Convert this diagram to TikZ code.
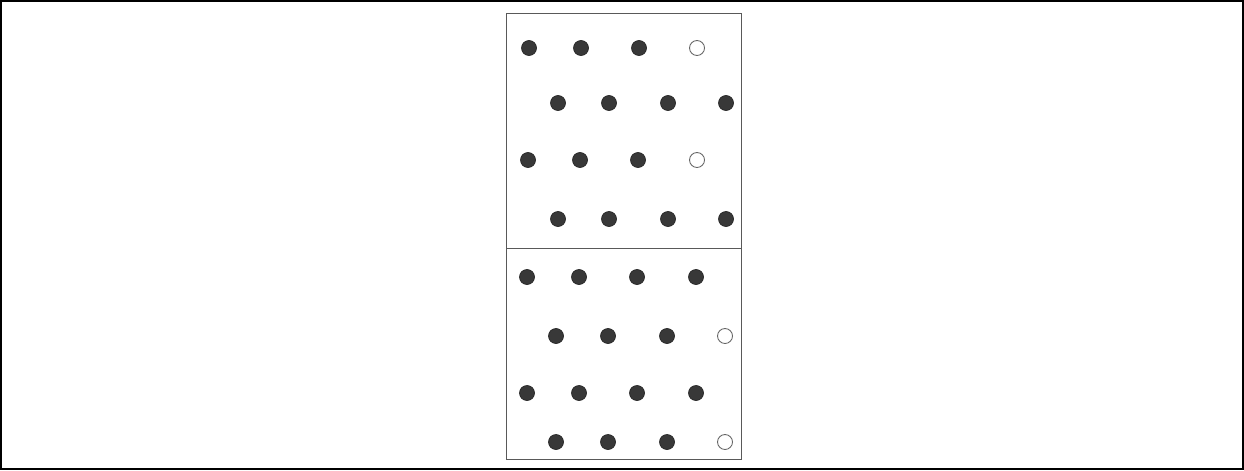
\documentclass[tikz,border=0pt]{standalone}
\tikzset{
  fulldot/.style={circle, fill=black!78, draw=black!85, inner sep=0pt, minimum size=0.3cm},
  opendot/.style={circle, draw=black!60, fill=white, inner sep=0pt, minimum size=0.3cm, line width=0.5pt},
  panel/.style={draw=black!65, line width=0.5pt}
}
\begin{document}
\begin{tikzpicture}[x=0.02cm,y=-0.02cm]
\useasboundingbox (0,0) rectangle (1244,470);
\draw[line width=1pt] (1,1) rectangle (1243,469);
% the two panels
\draw[panel] (506,13) rectangle (741,248);
\draw[panel] (506,248) rectangle (741,459);
% upper panel
\foreach \i/\x in {1/529,2/581,3/639} \node[fulldot] (ua\i) at (\x,48) {};
\node[opendot] (ua4) at (697,48) {};
\foreach \i/\x in {1/558,2/609,3/668,4/726} \node[fulldot] (ub\i) at (\x,103) {};
\foreach \i/\x in {1/528,2/580,3/638} \node[fulldot] (uc\i) at (\x,160) {};
\node[opendot] (uc4) at (697,160) {};
\foreach \i/\x in {1/558,2/609,3/668,4/726} \node[fulldot] (ud\i) at (\x,219) {};
% lower panel
\foreach \i/\x in {1/527,2/579,3/637,4/696} \node[fulldot] (la\i) at (\x,277) {};
\foreach \i/\x in {1/556,2/608,3/667} \node[fulldot] (lb\i) at (\x,336) {};
\node[opendot] (lb4) at (725,336) {};
\foreach \i/\x in {1/527,2/579,3/637,4/696} \node[fulldot] (lc\i) at (\x,393) {};
\foreach \i/\x in {1/556,2/608,3/667} \node[fulldot] (ld\i) at (\x,442) {};
\node[opendot] (ld4) at (725,442) {};
\end{tikzpicture}
\end{document}
